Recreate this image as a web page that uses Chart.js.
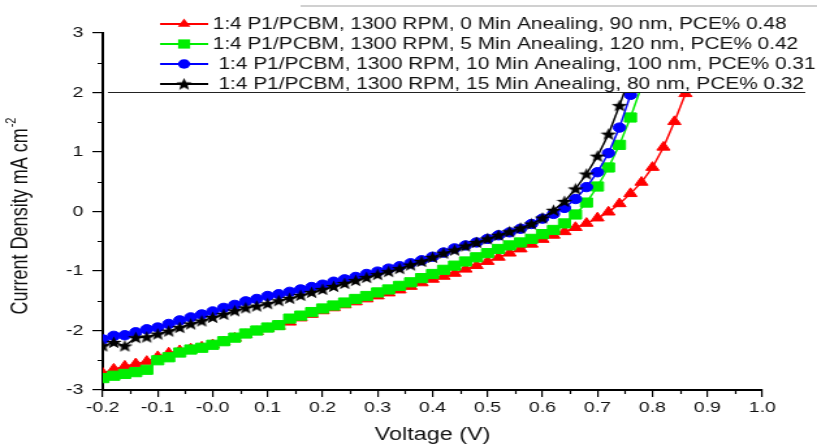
<!DOCTYPE html>
<html>
<head>
<meta charset="utf-8">
<script src="https://cdn.jsdelivr.net/npm/chart.js@4.4.1/dist/chart.umd.min.js"></script>
<style>
  html, body { margin: 0; padding: 0; background: #fff; overflow: hidden; }
  /* the source figure is stretched sideways, so the canvas is too */
  #wrap { width: 628px; height: 444px; transform: scaleX(1.30096); transform-origin: 0 0; }
</style>
</head>
<body>
<div id="wrap"><canvas id="jv" width="628" height="444"></canvas></div>
<script>
// J-V curves, 1:4 P1/PCBM films at 1300 RPM, different annealing times

const voltage = [
    -0.20, -0.18, -0.16, -0.14, -0.12, -0.10, -0.08, -0.06, -0.04, -0.02,
     0.00,  0.02,  0.04,  0.06,  0.08,  0.10,  0.12,  0.14,  0.16,  0.18,
     0.20,  0.22,  0.24,  0.26,  0.28,  0.30,  0.32,  0.34,  0.36,  0.38,
     0.40,  0.42,  0.44,  0.46,  0.48,  0.50,  0.52,  0.54,  0.56,  0.58,
     0.60,  0.62,  0.64,  0.66,  0.68,  0.70,  0.72,  0.74,  0.76,  0.78,
     0.80,  0.82,  0.84,  0.86
];

const anneal0 = [
    -2.72, -2.65, -2.60, -2.56, -2.52, -2.44, -2.38, -2.34, -2.31, -2.28,
    -2.24, -2.19, -2.13, -2.07, -2.02, -1.97, -1.93, -1.86, -1.79, -1.73,
    -1.67, -1.62, -1.57, -1.52, -1.47, -1.42, -1.37, -1.32, -1.26, -1.20,
    -1.14, -1.09, -1.04, -0.97, -0.91, -0.84, -0.77, -0.70, -0.63, -0.55,
    -0.47, -0.40, -0.34, -0.27, -0.20, -0.11, -0.01,  0.13,  0.30,  0.49,
     0.74,  1.08,  1.51,  1.98
];

const anneal5 = [
    -2.80, -2.76, -2.73, -2.70, -2.66, -2.50, -2.45, -2.37, -2.32, -2.29,
    -2.24, -2.18, -2.12, -2.05, -2.00, -1.95, -1.91, -1.80, -1.75, -1.69,
    -1.63, -1.58, -1.53, -1.47, -1.42, -1.36, -1.31, -1.25, -1.19, -1.12,
    -1.05, -0.98, -0.91, -0.84, -0.77, -0.70, -0.63, -0.57, -0.52, -0.46,
    -0.38, -0.31, -0.20, -0.05,  0.15,  0.42,  0.74,  1.12,  1.58,  2.10
];

const anneal10 = [
    -2.15, -2.09, -2.08, -2.03, -1.98, -1.95, -1.89, -1.83, -1.78, -1.73,
    -1.68, -1.62, -1.57, -1.51, -1.47, -1.42, -1.39, -1.35, -1.31, -1.27,
    -1.23, -1.18, -1.14, -1.10, -1.05, -1.01, -0.96, -0.92, -0.87, -0.82,
    -0.76, -0.69, -0.62, -0.57, -0.52, -0.46, -0.40, -0.35, -0.29, -0.21,
    -0.12, -0.04,  0.06,  0.21,  0.41,  0.66,  0.98,  1.41,  1.96
];

const anneal15 = [
    -2.26, -2.20, -2.26, -2.12, -2.11, -2.06, -2.01, -1.95, -1.89, -1.84,
    -1.78, -1.73, -1.67, -1.62, -1.59, -1.55, -1.50, -1.46, -1.41, -1.36,
    -1.31, -1.26, -1.21, -1.16, -1.11, -1.06, -1.01, -0.96, -0.90, -0.84,
    -0.77, -0.70, -0.65, -0.58, -0.52, -0.46, -0.40, -0.34, -0.28, -0.21,
    -0.11,  0.02,  0.17,  0.38,  0.63,  0.93,  1.30,  1.78,  2.30
];

const seriesLabels = [
    '1:4 P1/PCBM, 1300 RPM, 0 Min Anealing, 90 nm, PCE% 0.48',
    '1:4 P1/PCBM, 1300 RPM, 5 Min Anealing, 120 nm, PCE% 0.42',
    ' 1:4 P1/PCBM, 1300 RPM, 10 Min Anealing, 100 nm, PCE% 0.31',
    ' 1:4 P1/PCBM, 1300 RPM, 15 Min Anealing, 80 nm, PCE% 0.32'
];

const FONT = "'Liberation Sans', Arial, sans-serif";
Chart.defaults.font.family = FONT;
Chart.defaults.color = '#000';

// filled five point star, the built in 'star' is only an asterisk
function makeStar(size) {
    const c = document.createElement('canvas');
    c.width = size;
    c.height = size;
    const g = c.getContext('2d');
    const cx = size / 2, cy = size / 2 + 0.5;
    const outer = size / 2, inner = outer * 0.42;
    g.beginPath();
    for (let i = 0; i < 10; i++) {
        const r = i % 2 === 0 ? outer : inner;
        const a = -Math.PI / 2 + i * Math.PI / 5;
        g.lineTo(cx + r * Math.cos(a), cy + r * Math.sin(a));
    }
    g.closePath();
    g.fillStyle = '#000';
    g.fill();
    return c;
}
const starImg = makeStar(13);

function toPoints(values) {
    return values.map((v, i) => ({ x: voltage[i], y: v }));
}

function series(label, values, color, pointStyle, radius, order) {
    return {
        label,
        data: toPoints(values),
        borderColor: color,
        backgroundColor: color,
        borderWidth: 1.5,
        pointStyle,
        pointRadius: radius,
        pointBackgroundColor: color,
        pointBorderColor: color,
        pointBorderWidth: 1,
        tension: 0,
        fill: false,
        order
    };
}

const datasets = [
    series(seriesLabels[0], anneal0, '#ff0000', 'triangle', 5.8, 3),
    series(seriesLabels[1], anneal5, '#00ee00', 'rect', 6.5, 2),
    series(seriesLabels[2], anneal10, '#0000ff', 'circle', 4.7, 1),
    series(seriesLabels[3], anneal15, '#000000', starImg, 5, 0)
];

const legendRowY = [24, 44, 64, 84];

function drawMarker(ctx, style, x, y, color) {
    ctx.fillStyle = color;
    ctx.beginPath();
    if (style === 'triangle') {
        const r = 5.6;
        ctx.moveTo(x, y - r);
        ctx.lineTo(x + r * 0.866, y + r / 2);
        ctx.lineTo(x - r * 0.866, y + r / 2);
        ctx.closePath();
        ctx.fill();
    } else if (style === 'rect') {
        const s = 4.6;
        ctx.fillRect(x - s, y - s, 2 * s, 2 * s);
    } else if (style === 'circle') {
        ctx.arc(x, y, 4.7, 0, Math.PI * 2);
        ctx.fill();
    } else {
        ctx.drawImage(style, x - style.width / 2, y - style.height / 2);
    }
}

// legend sits in a white box over the top of the plot, bottom edge at J = 2
const boxLegend = {
    id: 'boxLegend',
    afterDatasetsDraw(chart) {
        const ctx = chart.ctx;
        const area = chart.chartArea;
        const yBottom = Math.round(chart.scales.y.getPixelForValue(2));
        const left = area.left + 4;
        const right = 619;
        ctx.save();
        ctx.fillStyle = '#fff';
        ctx.fillRect(left, 7, right - left, yBottom - 7);
        ctx.strokeStyle = '#222';
        ctx.lineWidth = 1;
        ctx.beginPath();
        ctx.moveTo(left, yBottom + 0.5);
        ctx.lineTo(right, yBottom + 0.5);
        ctx.stroke();
        ctx.strokeStyle = '#c0c0c0';
        ctx.lineWidth = 1.5;
        ctx.beginPath();
        ctx.moveTo(231, 6);
        ctx.lineTo(chart.width, 6);
        ctx.stroke();

        ctx.font = '16px ' + FONT;
        ctx.textBaseline = 'middle';
        ctx.textAlign = 'left';
        chart.data.datasets.forEach((ds, i) => {
            const y = legendRowY[i];
            ctx.strokeStyle = ds.borderColor;
            ctx.lineWidth = 2;
            ctx.beginPath();
            ctx.moveTo(123, y);
            ctx.lineTo(160, y);
            ctx.stroke();
            drawMarker(ctx, ds.pointStyle, 141.5, y, ds.borderColor);
            ctx.fillStyle = '#111';
            ctx.fillText(ds.label, 163.5, y + 1);
        });
        ctx.restore();
    }
};

// small ticks halfway between the labelled ones, plus the y title with its superscript
const axisExtras = {
    id: 'axisExtras',
    afterDraw(chart) {
        const ctx = chart.ctx;
        const x = chart.scales.x, y = chart.scales.y;
        ctx.save();
        ctx.strokeStyle = '#000';
        ctx.lineWidth = 1.2;
        ctx.beginPath();
        for (let i = 0; i < x.ticks.length - 1; i++) {
            const px = Math.round(x.getPixelForValue((x.ticks[i].value + x.ticks[i + 1].value) / 2)) + 0.5;
            ctx.moveTo(px, x.top);
            ctx.lineTo(px, x.top + 4);
        }
        for (let i = 0; i < y.ticks.length - 1; i++) {
            const py = Math.round(y.getPixelForValue((y.ticks[i].value + y.ticks[i + 1].value) / 2)) + 0.5;
            ctx.moveTo(y.right - 4, py);
            ctx.lineTo(y.right, py);
        }
        ctx.stroke();

        const main = 'Current Density mA cm';
        const sup = '-2';
        ctx.translate(16.5, 216);
        ctx.rotate(-Math.PI / 2);
        ctx.fillStyle = '#111';
        ctx.textBaseline = 'middle';
        ctx.textAlign = 'left';
        ctx.font = '18px ' + FONT;
        const w1 = ctx.measureText(main).width;
        ctx.font = '11px ' + FONT;
        const w2 = ctx.measureText(sup).width;
        const start = -(w1 + w2 + 1) / 2;
        ctx.font = '18px ' + FONT;
        ctx.fillText(main, start, 0);
        ctx.font = '11px ' + FONT;
        ctx.fillText(sup, start + w1 + 1, -8);
        ctx.restore();
    }
};

new Chart(document.getElementById('jv'), {
    type: 'line',
    data: { datasets },
    options: {
        responsive: false,
        animation: false,
        devicePixelRatio: 1,
        layout: { padding: { top: 33, right: 42, left: 0, bottom: 0 } },
        plugins: {
            legend: { display: false },
            tooltip: { enabled: false }
        },
        scales: {
            x: {
                type: 'linear',
                min: -0.2,
                max: 1.0,
                afterFit: (scale) => { scale.height = 54; },
                ticks: {
                    stepSize: 0.1,
                    autoSkip: false,
                    maxRotation: 0,
                    padding: 2,
                    color: '#111',
                    font: { size: 15 },
                    callback: (v) => v.toFixed(1)
                },
                grid: { drawOnChartArea: false, tickLength: 7, color: '#000', lineWidth: 1.2 },
                border: { color: '#000', width: 2 },
                title: {
                    display: true,
                    text: 'Voltage (V)',
                    color: '#111',
                    font: { size: 18, lineHeight: 1 },
                    padding: 0
                }
            },
            y: {
                min: -3,
                max: 3,
                afterFit: (scale) => { scale.width = 79; },
                ticks: {
                    stepSize: 1,
                    padding: 7,
                    color: '#111',
                    font: { size: 15 }
                },
                grid: { drawOnChartArea: false, tickLength: 8, color: '#000', lineWidth: 1.2 },
                border: { color: '#000', width: 2 }
            }
        }
    },
    plugins: [boxLegend, axisExtras]
});
</script>
</body>
</html>
